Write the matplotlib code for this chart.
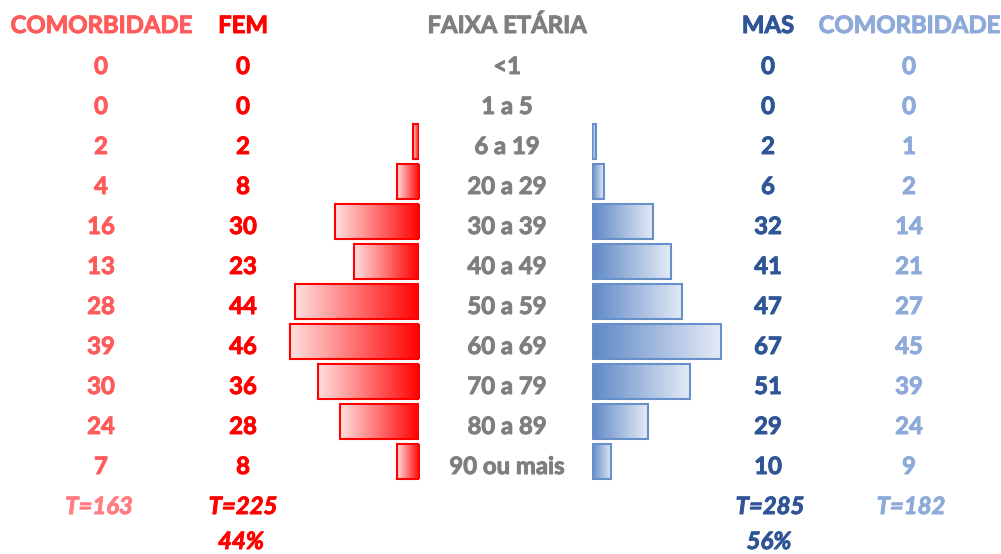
import numpy as np
import matplotlib
matplotlib.use("Agg")
import matplotlib.pyplot as plt
import matplotlib.patheffects as pe
from matplotlib.patches import Rectangle
from matplotlib.colors import to_rgb

# ---------------- data ----------------
faixas = ["<1", "1 a 5", "6 a 19", "20 a 29", "30 a 39", "40 a 49",
          "50 a 59", "60 a 69", "70 a 79", "80 a 89", "90 ou mais"]
fem = [0, 0, 2, 8, 30, 23, 44, 46, 36, 28, 8]
mas = [0, 0, 2, 6, 32, 41, 47, 67, 51, 29, 10]
comorb_fem = [0, 0, 2, 4, 16, 13, 28, 39, 30, 24, 7]
comorb_mas = [0, 0, 1, 2, 14, 21, 27, 45, 39, 24, 9]
tot_comorb_fem = "T=163"
tot_fem = "T=225"
tot_mas = "T=285"
tot_comorb_mas = "T=182"
pct_fem = "44%"
pct_mas = "56%"
headers = ["COMORBIDADE", "FEM", "FAIXA ETÁRIA", "MAS", "COMORBIDADE"]

# ---------------- style ----------------
C_COMF = "#ff5b5b"
C_FEM = "#ff0000"
C_GRAY = "#7f7f7f"
C_MAS = "#2f5597"
C_COMM = "#8eaadb"
C_TCOMF = "#ff7c80"
FONT = "Lato"
WEIGHT = "bold"

W, H = 1001, 554
fig = plt.figure(figsize=(W / 100, H / 100), dpi=100)
fig.patch.set_facecolor("white")

# text layer in pixel coordinates
ax = fig.add_axes([0, 0, 1, 1])
ax.set_xlim(0, W)
ax.set_ylim(H, 0)
ax.axis("off")

col_x = [101, 243, 507, 768, 909]
hdr_colors = [C_COMF, C_FEM, C_GRAY, C_MAS, C_COMM]
fs = 17.2
hdr_base = 33
row_base0 = 74
row_step = 40


def put(x, y, s, c, italic=False):
    ax.text(x, y, s, color=c, fontsize=fs, fontweight=WEIGHT,
            style="italic" if italic else "normal", family=FONT,
            ha="center", va="baseline",
            path_effects=[pe.withStroke(linewidth=0.7, foreground=c)])


for x, h, c in zip(col_x, headers, hdr_colors):
    put(x, hdr_base, h, c)

for i in range(len(faixas)):
    yb = row_base0 + row_step * i
    vals = [str(comorb_fem[i]), str(fem[i]), faixas[i], str(mas[i]), str(comorb_mas[i])]
    for x, v, c in zip(col_x, vals, hdr_colors):
        put(x, yb, v, c)

t_base = 514
p_base = 549
for x, v, c in [(99, tot_comorb_fem, C_TCOMF), (243, tot_fem, C_FEM),
                (770, tot_mas, C_MAS), (911, tot_comorb_mas, C_COMM)]:
    put(x, t_base, v, c, italic=True)
for x, v, c in [(241, pct_fem, C_FEM), (769, pct_mas, C_MAS)]:
    put(x, p_base, v, c, italic=True)

# ---------------- bars ----------------
bar_c0 = 61.5     # pixel centre of first row's bar
ylim_top = -bar_c0 / row_step
ylim_bot = (H - bar_c0) / row_step
bh = 0.87


def grad_img(c_base, c_light, n=256):
    a = np.array(to_rgb(c_base))
    b = np.array(to_rgb(c_light))
    t = np.linspace(0, 1, n)[None, :, None]
    return a + (b - a) * t


def draw_side(left_px, width_px, px_per_unit, vals, base, light, edge, invert):
    bx = fig.add_axes([left_px / W, 0, width_px / W, 1])
    bx.axis("off")
    img = grad_img(base, light)
    for i, v in enumerate(vals):
        if v <= 0:
            continue
        bx.imshow(img, extent=(0, v, i + bh / 2, i - bh / 2), aspect="auto",
                  interpolation="bilinear", zorder=1)
        bx.add_patch(Rectangle((0, i - bh / 2), v, bh, fill=False,
                               edgecolor=edge, linewidth=1.5, zorder=2))
    xmax = width_px / px_per_unit
    if invert:
        bx.set_xlim(xmax, 0)
    else:
        bx.set_xlim(0, xmax)
    bx.set_ylim(ylim_bot, ylim_top)
    return bx


# female: baseline at x=419 px, extends left
draw_side(419 - 150, 150, 2.81, fem, "#ff0000", "#ffe0e0", "#ff0000", True)
# male: baseline at x=592 px, extends right
draw_side(592, 150, 1.92, mas, "#5f88c6", "#e4ebf6", "#6790ca", False)

fig.savefig("out.png", dpi=100, facecolor="white")
